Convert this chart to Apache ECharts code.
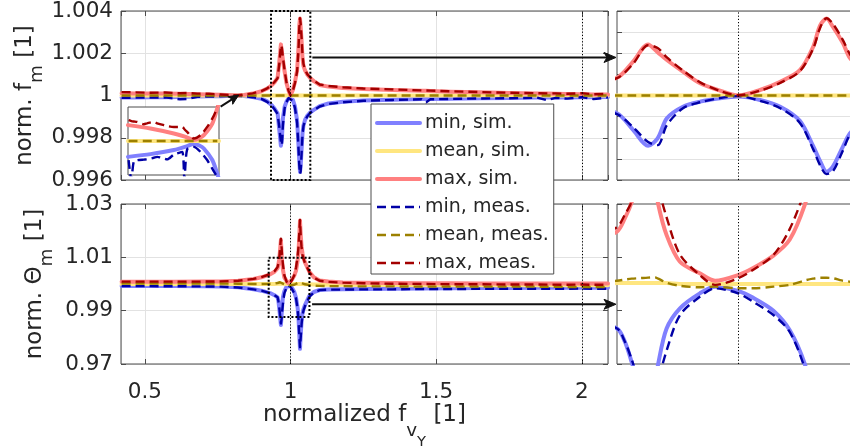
<!DOCTYPE html>
<html><head><meta charset="utf-8">
<script src="https://cdn.jsdelivr.net/npm/echarts@6/dist/echarts.min.js"></script>
<style>html,body{margin:0;padding:0;background:#fff}#c{width:850px;height:448px}</style>
</head><body><div id="c"></div><script>
// ---------------- data ----------------
const legendNames = ['min, sim.', 'mean, sim.', 'max, sim.', 'min, meas.', 'mean, meas.', 'max, meas.'];

// top row: normalized f_m
const xT = [0.42,0.47,0.52,0.57,0.62,0.65,0.68,0.72,0.76,0.8,0.82,0.84,0.87,0.9,0.92,0.935,0.945,0.9556,0.9615,0.967,0.9705,0.9739,0.9798,0.9861,0.9934,1.0,1.0081,1.0155,1.0227,1.0276,1.0301,1.0325,1.0348,1.0385,1.0411,1.0444,1.05,1.058,1.068,1.08,1.1,1.13,1.18,1.25,1.35,1.45,1.466,1.48,1.55,1.65,1.75,1.85,1.88,1.91,1.95,2.0,2.04,2.09];
const maxSimT = [1.00011,1.00010,1.00010,1.00009,1.00008,1.00007,1.00006,1.00005,1.00003,1.00001,1.00000,1.00003,1.00009,1.00020,1.00033,1.00048,1.00062,1.00084,1.00160,1.00242,1.00205,1.00168,1.00113,1.00058,1.00023,1.00000,1.00026,1.00065,1.00120,1.00231,1.00331,1.00364,1.00326,1.00248,1.00177,1.00140,1.00118,1.00098,1.00082,1.00068,1.00050,1.00042,1.00036,1.00031,1.00026,1.00022,1.00022,1.00021,1.00018,1.00015,1.00012,1.00009,1.00009,1.00008,1.00007,1.00006,1.00005,1.00005];
const minSimT = [0.99991,0.99991,0.99992,0.99992,0.99993,0.99994,0.99995,0.99996,0.99997,0.99999,1.00000,0.99998,0.99993,0.99985,0.99972,0.99955,0.99938,0.99916,0.99837,0.99762,0.99797,0.99892,0.99947,0.99971,0.99987,0.99995,0.99979,0.99947,0.99880,0.99760,0.99690,0.99639,0.99663,0.99758,0.99821,0.99858,0.99885,0.99905,0.99920,0.99932,0.99950,0.99962,0.99970,0.99976,0.99980,0.99983,0.99983,0.99983,0.99985,0.99987,0.99988,0.99990,0.99990,0.99990,0.99991,0.99992,0.99992,0.99993];
const meanSimT = [1,1,1,1,1,1,1,1,1,1,1,1,1,1,1,1,1,1,1,1,1,1,1,1,1,1,1,1,1,1,1,1,1,1,1,1,1,1,1,1,1,1,1,1,1,1,1,1,1,1,1,1,1,1,1,1,1,1];
const maxMeasT = [1.00016,1.00015,1.00013,1.00014,1.00011,1.00012,1.00009,1.00008,1.00005,1.00002,1.00001,1.00004,1.00010,1.00021,1.00034,1.00050,1.00064,1.00082,1.00150,1.00238,1.00225,1.00180,1.00118,1.00062,1.00022,1.00001,1.00023,1.00060,1.00115,1.00222,1.00320,1.00366,1.00340,1.00262,1.00195,1.00150,1.00122,1.00100,1.00085,1.00070,1.00052,1.00045,1.00039,1.00033,1.00029,1.00024,1.00024,1.00023,1.00020,1.00016,1.00013,1.00011,1.00010,1.00010,1.00008,1.00011,1.00006,1.00008];
const minMeasT = [0.99989,0.99990,0.99990,0.99991,0.99982,0.99984,0.99994,0.99995,0.99996,0.99998,0.99999,0.99997,0.99992,0.99984,0.99970,0.99952,0.99935,0.99912,0.99850,0.99780,0.99765,0.99860,0.99940,0.99968,0.99988,0.99997,0.99975,0.99940,0.99870,0.99745,0.99670,0.99628,0.99640,0.99740,0.99815,0.99855,0.99882,0.99902,0.99918,0.99930,0.99948,0.99960,0.99968,0.99975,0.99979,0.99982,0.99968,0.99982,0.99984,0.99986,0.99987,0.99989,0.99978,0.99989,0.99985,0.99992,0.99983,0.99991];
const meanMeasT = [1,1,1,1,1,1,1,1,1,1,1,1,1,1,1,1,1,1,1,1,1,1,1,1,1,1,1,1,1,1,1,1,1,1,1,1,1,1,1,1,1,1,1,1,1,1,1,1,1,1,1,1,1,1,1,1,1,1];

// bottom row: normalized Theta_m
const xB = [0.42,0.5,0.6,0.7,0.76,0.82,0.873,0.9,0.93,0.945,0.9556,0.9585,0.961,0.964,0.967,0.9695,0.9707,0.9738,0.9787,0.986,0.9916,1.0,1.0056,1.013,1.019,1.0245,1.0275,1.030,1.0325,1.035,1.038,1.0411,1.0444,1.05,1.065,1.08,1.1,1.13,1.18,1.25,1.35,1.45,1.55,1.65,1.75,1.85,1.95,2.0,2.04,2.09];
const maxSimB = [1.00086,1.00086,1.00088,1.0009,1.00095,1.0012,1.0019,1.0025,1.0036,1.0046,1.0059,1.0074,1.0092,1.0125,1.0165,1.0115,1.009,1.0055,1.0025,1.0012,1.00037,1.001,1.0018,1.0032,1.005,1.0089,1.0125,1.0175,1.0238,1.0185,1.014,1.0115,1.0098,1.008,1.0045,1.0025,1.0013,1.0009,1.0006,1.0005,1.0004,1.0003,1.0003,1.0002,1.0002,1.0002,1.0002,1.0002,1.0002,1.0002];
const minSimB = [0.99925,0.99925,0.99922,0.99915,0.99905,0.9988,0.998,0.9975,0.9966,0.9958,0.995,0.9935,0.9912,0.988,0.9846,0.9885,0.991,0.995,0.99727,0.99895,0.9997,0.99921,0.99845,0.997,0.9948,0.991,0.987,0.9815,0.9757,0.981,0.986,0.989,0.9905,0.9922,0.9956,0.997,0.99775,0.9979,0.998,0.9981,0.9982,0.9983,0.9984,0.9985,0.9985,0.9986,0.9986,0.9986,0.9986,0.9986];
const meanSimB = [1,1,1,1,1,1,1,1,1,1,1.0001,1.0001,1.0001,1.0001,1.0001,1.0001,1.0001,1.0001,1,1,1,1,1,1,1,1,1,1,1,1,1,1,0.9999,0.9999,0.9999,0.9998,0.9998,0.9997,0.9997,0.9996,0.9996,0.9995,0.9995,0.9995,0.9995,0.9995,0.9995,0.9995,0.9995,0.9995];
const maxMeasB = [1.0009,1.0009,1.0009,1.0009,1.001,1.0012,1.0019,1.0026,1.0037,1.0048,1.0064,1.0078,1.0093,1.013,1.017,1.0135,1.011,1.0075,1.0033,1.001,0.9999,1.00064,1.0016,1.00326,1.0062,1.0105,1.014,1.019,1.024,1.018,1.0135,1.011,1.0095,1.0078,1.0044,1.0024,1.0012,1.0008,1.0005,1.0003,1.0001,1.0,0.9999,0.9999,0.9998,0.9998,0.9997,0.9998,0.9997,0.9997];
const minMeasB = [0.9992,0.9992,0.99915,0.9991,0.999,0.9987,0.998,0.9975,0.9966,0.9958,0.995,0.9935,0.9915,0.9885,0.9852,0.987,0.989,0.9925,0.9965,0.99857,0.99952,0.99895,0.998,0.99651,0.9946,0.9905,0.9865,0.981,0.9763,0.98,0.985,0.9882,0.99,0.9918,0.9953,0.9968,0.9977,0.9979,0.9979,0.998,0.998,0.9981,0.9981,0.9982,0.9982,0.9982,0.9982,0.9983,0.9982,0.9982];
const meanMeasB = [1.0002,1.0002,1.0002,1.0002,1.0002,1.0001,1.0,1.0,1.0001,1.0002,1.00037,1.0005,1.0006,1.00066,1.00072,1.00075,1.0006,1.00015,0.9998,0.99963,0.9997,0.99952,0.99952,0.9997,0.9999,1.0004,1.0006,1.0007,1.0007,1.00064,1.0004,1.00026,1.0001,0.9999,0.9996,0.9994,0.9993,0.9992,0.9992,0.9991,0.9991,0.999,0.999,0.999,0.999,0.999,0.9989,0.9989,0.9989,0.9989];

// inset (zoom near convergence point of top row)
const insetSimX = [0.6,0.674,0.751,0.79,0.817,0.835,0.85,0.878,0.894,0.9];
const insetMaxSim = [1.00007,1.000055,1.000033,1.000018,1.000004,1.000012,1.000026,1.000077,1.000143,1.00017];
const insetMinSim = [0.99993,0.999942,0.99996,0.999975,0.999988,0.99998,0.999967,0.999916,0.999857,0.99983];
const insetMeanSim = [1,1,1,1,1,1,1,1,1,1];
const insetMeasX = [0.602,0.611,0.619,0.63,0.652,0.663,0.685,0.696,0.718,0.729,0.751,0.762,0.779,0.786,0.795,0.817,0.839,0.861,0.8835,0.8945];
const insetMaxMeas = [1.000092,1.000088,1.000086,1.000084,1.000074,1.000078,1.000084,1.000078,1.00007,1.000066,1.000062,1.000062,1.000062,1.000052,1.00004,1.000011,1.000026,1.000062,1.000113,1.00015];
const insetMinMeas = [0.999916,0.99983,0.999909,0.999915,0.999918,0.999919,0.999926,0.99993,0.999923,0.999919,0.99994,0.999945,0.999952,0.99983,0.999963,0.999974,0.999952,0.999916,0.999865,0.99984];
const insetMeanMeas = [1,1,1,1,1,1,1,1,1,1,1,1,1,1,1,1,1,1,1,1];

// axes
const xRange = [0.418, 2.09];
const zoomXRange = [0.9556, 1.0444];
const insetXRange = [0.6, 0.9];
const topY = {min: 0.996, max: 1.004, interval: 0.002};
const botY = {min: 0.97, max: 1.03, interval: 0.02};
const topZoomY = {min: 0.996, max: 1.004, interval: 0.001};
const botZoomY = {min: 0.991, max: 1.009, interval: 0.006};
const insetY = {min: 0.99985, max: 1.00015};
const refLinesX = [1, 2];
const zoomBoxTop = [0.933, 1.068, 0.996, 1.004];
const zoomBoxBottom = [0.925, 1.065, 0.9876, 1.0098];

// ---------------- styling ----------------
const FONT = 'DejaVu Sans';
const TXT = '#262626';
const AXC = '#4d4d4d';
const GRIDC = '#e2e2e2';
const TICK = 21.5;
const lineDefs = [
  {color:'#8080ff', width:4, type:'solid'},
  {color:'#ffe680', width:4, type:'solid'},
  {color:'#ff8080', width:4, type:'solid'},
  {color:'#0000a6', width:2.4, type:[9,5]},
  {color:'#9c8000', width:2.4, type:[9,5]},
  {color:'#a30000', width:2.4, type:[9,5]}
];

function makeSeries(xsList, ysList, axisIdx, z, marks, smooth) {
  return ysList.map((ys, k) => {
    const xs = xsList[k];
    const s = {
      type: 'line', name: legendNames[k], xAxisIndex: axisIdx, yAxisIndex: axisIdx,
      data: xs.map((x, i) => [x, ys[i]]), symbol: 'none', showSymbol: false, silent: true,
      z: z, animation: false, clip: true, smooth: smooth,
      lineStyle: {color: lineDefs[k].color, width: lineDefs[k].width, type: lineDefs[k].type,
                  cap: k < 3 ? 'round' : 'butt', join: 'round'},
      itemStyle: {color: lineDefs[k].color}
    };
    if (k === 5 && marks) {
      s.markLine = {silent: true, symbol: 'none', animation: false, label: {show: false},
        lineStyle: {color: '#000', width: 1, type: [1.2, 2]},
        data: marks.map(v => ({xAxis: v}))};
    }
    return s;
  });
}

const tickStyle = {inside: true, length: 5, lineStyle: {color: AXC, width: 1}};
const labelStyle = {color: TXT, fontFamily: FONT, fontSize: TICK};
const six = a => [a, a, a, a, a, a];

const series = [].concat(
  makeSeries(six(xT), [minSimT, meanSimT, maxSimT, minMeasT, meanMeasT, maxMeasT], 0, 2, refLinesX, false),
  makeSeries(six(xB), [minSimB, meanSimB, maxSimB, minMeasB, meanMeasB, maxMeasB], 2, 2, refLinesX, false),
  makeSeries(six(xT), [minSimT, meanSimT, maxSimT, minMeasT, meanMeasT, maxMeasT], 4, 2, [1], 0.3),
  makeSeries(six(xB), [minSimB, meanSimB, maxSimB, minMeasB, meanMeasB, maxMeasB], 5, 2, [1], 0.3),
  makeSeries([insetSimX, insetSimX, insetSimX, insetMeasX, insetMeasX, insetMeasX],
             [insetMinSim, insetMeanSim, insetMaxSim, insetMinMeas, insetMeanMeas, insetMaxMeas], 6, 6, null, 0.25)
);

function gridBox(l, t, w, h) {
  return {left: l, top: t, width: w, height: h, show: true, backgroundColor: 'transparent',
          borderColor: AXC, borderWidth: 1, z: 1, outerBoundsMode: 'none', containLabel: false};
}

const option = {
  animation: false,
  textStyle: {fontFamily: FONT},
  grid: [
    gridBox(121, 11, 487, 169),
    gridBox(121, 204, 487, 160),
    gridBox(617, 11, 242, 169),
    gridBox(617, 204, 242, 160),
    Object.assign(gridBox(128, 107, 91, 68), {backgroundColor: '#fff', z: 5})
  ],
  xAxis: [
    {gridIndex: 0, type: 'value', position: 'bottom', min: xRange[0], max: xRange[1], splitNumber: 3,
     axisLine: {show: false, onZero: false}, axisTick: tickStyle, axisLabel: {show: false},
     splitLine: {show: true, lineStyle: {color: GRIDC, width: 1}}},
    {gridIndex: 0, type: 'value', position: 'top', min: xRange[0], max: xRange[1], splitNumber: 3,
     axisLine: {show: false, onZero: false}, axisTick: tickStyle, axisLabel: {show: false}, splitLine: {show: false}},
    {gridIndex: 1, type: 'value', position: 'bottom', min: xRange[0], max: xRange[1], splitNumber: 3,
     axisLine: {show: false, onZero: false}, axisTick: tickStyle,
     axisLabel: Object.assign({show: true, showMinLabel: false, showMaxLabel: false, margin: 17}, labelStyle),
     splitLine: {show: true, lineStyle: {color: GRIDC, width: 1}}},
    {gridIndex: 1, type: 'value', position: 'top', min: xRange[0], max: xRange[1], splitNumber: 3,
     axisLine: {show: false, onZero: false}, axisTick: tickStyle, axisLabel: {show: false}, splitLine: {show: false}},
    {gridIndex: 2, type: 'value', min: zoomXRange[0], max: zoomXRange[1], show: false},
    {gridIndex: 3, type: 'value', min: zoomXRange[0], max: zoomXRange[1], show: false},
    {gridIndex: 4, type: 'value', min: insetXRange[0], max: insetXRange[1], show: false}
  ],
  yAxis: [
    {gridIndex: 0, type: 'value', position: 'left', min: topY.min, max: topY.max, interval: topY.interval,
     axisLine: {show: false, onZero: false}, axisTick: tickStyle,
     axisLabel: Object.assign({margin: 8}, labelStyle),
     splitLine: {show: true, lineStyle: {color: GRIDC, width: 1}}},
    {gridIndex: 0, type: 'value', position: 'right', min: topY.min, max: topY.max, interval: topY.interval,
     axisLine: {show: false, onZero: false}, axisTick: tickStyle, axisLabel: {show: false}, splitLine: {show: false}},
    {gridIndex: 1, type: 'value', position: 'left', min: botY.min, max: botY.max, interval: botY.interval,
     axisLine: {show: false, onZero: false}, axisTick: tickStyle,
     axisLabel: Object.assign({margin: 8}, labelStyle),
     splitLine: {show: true, lineStyle: {color: GRIDC, width: 1}}},
    {gridIndex: 1, type: 'value', position: 'right', min: botY.min, max: botY.max, interval: botY.interval,
     axisLine: {show: false, onZero: false}, axisTick: tickStyle, axisLabel: {show: false}, splitLine: {show: false}},
    {gridIndex: 2, type: 'value', position: 'left', min: topZoomY.min, max: topZoomY.max, interval: topZoomY.interval,
     axisLine: {show: false, onZero: false}, axisTick: tickStyle, axisLabel: {show: false},
     splitLine: {show: true, lineStyle: {color: GRIDC, width: 1}}},
    {gridIndex: 3, type: 'value', position: 'left', min: botZoomY.min, max: botZoomY.max, interval: botZoomY.interval,
     axisLine: {show: false, onZero: false}, axisTick: tickStyle, axisLabel: {show: false}, splitLine: {show: false}},
    {gridIndex: 4, type: 'value', min: insetY.min, max: insetY.max, show: false}
  ],
  legend: {
    orient: 'vertical', left: 371, top: 104, padding: [9.5, 5, 1.5, 4],
    itemWidth: 43, itemHeight: 14, itemGap: 9, selectedMode: false,
    backgroundColor: '#fff', borderColor: AXC, borderWidth: 1, borderRadius: 0, z: 10,
    textStyle: {fontFamily: FONT, fontSize: 19, color: TXT},
    lineStyle: {width: 'inherit'},
    itemStyle: {opacity: 0, borderWidth: 0},
    data: legendNames
  },
  series: series
};

const chart = echarts.init(document.getElementById('c'), null, {renderer: 'canvas', width: 850, height: 448});
chart.setOption(option);

// ---------------- annotations (labels, zoom boxes, arrows) ----------------
const ctx = document.createElement('canvas').getContext('2d');
function tw(t, size) { ctx.font = size + 'px "' + FONT + '"'; return ctx.measureText(t).width; }
function textRun(parts) {
  let x = 0; const els = [];
  parts.forEach(p => {
    els.push({type: 'text', x: x, y: p.dy - 0.33 * p.size, silent: true,
      style: {text: p.t, fill: TXT, font: p.size + 'px "' + FONT + '"', fontSize: p.size, fontFamily: FONT,
              align: 'left', verticalAlign: 'middle', textAlign: 'left', textVerticalAlign: 'middle'}});
    x += tw(p.t, p.size);
  });
  return {els: els, len: x};
}
const LB = 23, SUB = 18.4, SUB2 = 14.7;
const yl1 = textRun([{t: 'norm. f', size: LB, dy: 0}, {t: 'm', size: SUB, dy: 10}, {t: ' [1]', size: LB, dy: 0}]);
const yl2 = textRun([{t: 'norm. \u0398', size: LB, dy: 0}, {t: 'm', size: SUB, dy: 10}, {t: ' [1]', size: LB, dy: 0}]);
const xl = textRun([{t: 'normalized f', size: LB, dy: 0}, {t: 'v', size: SUB, dy: 14}, {t: 'Y', size: SUB2, dy: 24}, {t: ' [1]', size: LB, dy: 0}]);

const P = (si, x, y) => chart.convertToPixel({seriesIndex: si}, [x, y]);
function rectFrom(si, b) {
  const a = P(si, b[0], b[3]), c = P(si, b[1], b[2]);
  return {type: 'rect', silent: true, z: 30, shape: {x: a[0], y: a[1], width: c[0] - a[0], height: c[1] - a[1]},
          style: {fill: null, stroke: '#000', lineWidth: 2, lineDash: [2, 2]}};
}
function arrow(p0, p1, head, half, notch) {
  const dx = p1[0] - p0[0], dy = p1[1] - p0[1], L = Math.hypot(dx, dy), ux = dx / L, uy = dy / L, nx = -uy, ny = ux;
  const bx = p1[0] - ux * head, by = p1[1] - uy * head;
  const back = [p1[0] - ux * (head - notch), p1[1] - uy * (head - notch)];
  return [
    {type: 'line', silent: true, z: 30, shape: {x1: p0[0], y1: p0[1], x2: back[0], y2: back[1]}, style: {stroke: '#111', lineWidth: 2}},
    {type: 'polygon', silent: true, z: 30, shape: {points: [p1, [bx + nx * half, by + ny * half], back, [bx - nx * half, by - ny * half]]},
     style: {fill: '#111', stroke: '#111', lineWidth: 1}}
  ];
}
const topA0 = P(0, 1.075, 1.0018), topA1 = P(12, zoomXRange[0], 1.0018);
const botA0 = P(6, 1.074, 0.9924), botA1 = P(18, zoomXRange[0], 0.9924);
const insA0 = P(0, 0.760, 0.99947), insA1 = P(0, 0.822, 1.00002);

const graphics = [].concat(
  [{type: 'group', x: 33, y: 95.5 + yl1.len / 2, rotation: Math.PI / 2, silent: true, children: yl1.els},
   {type: 'group', x: 43, y: 284 + yl2.len / 2, rotation: Math.PI / 2, silent: true, children: yl2.els},
   {type: 'group', x: 364.5 - xl.len / 2, y: 423, silent: true, children: xl.els},
   rectFrom(0, zoomBoxTop), rectFrom(6, zoomBoxBottom)],
  arrow(topA0, [topA1[0] - 1, topA0[1]], 12, 5, 3),
  arrow(botA0, [botA1[0] - 1, botA0[1]], 12, 5, 3),
  arrow(insA0, insA1, 10, 4.5, 2.5)
);
chart.setOption({graphic: graphics});
</script></body></html>
